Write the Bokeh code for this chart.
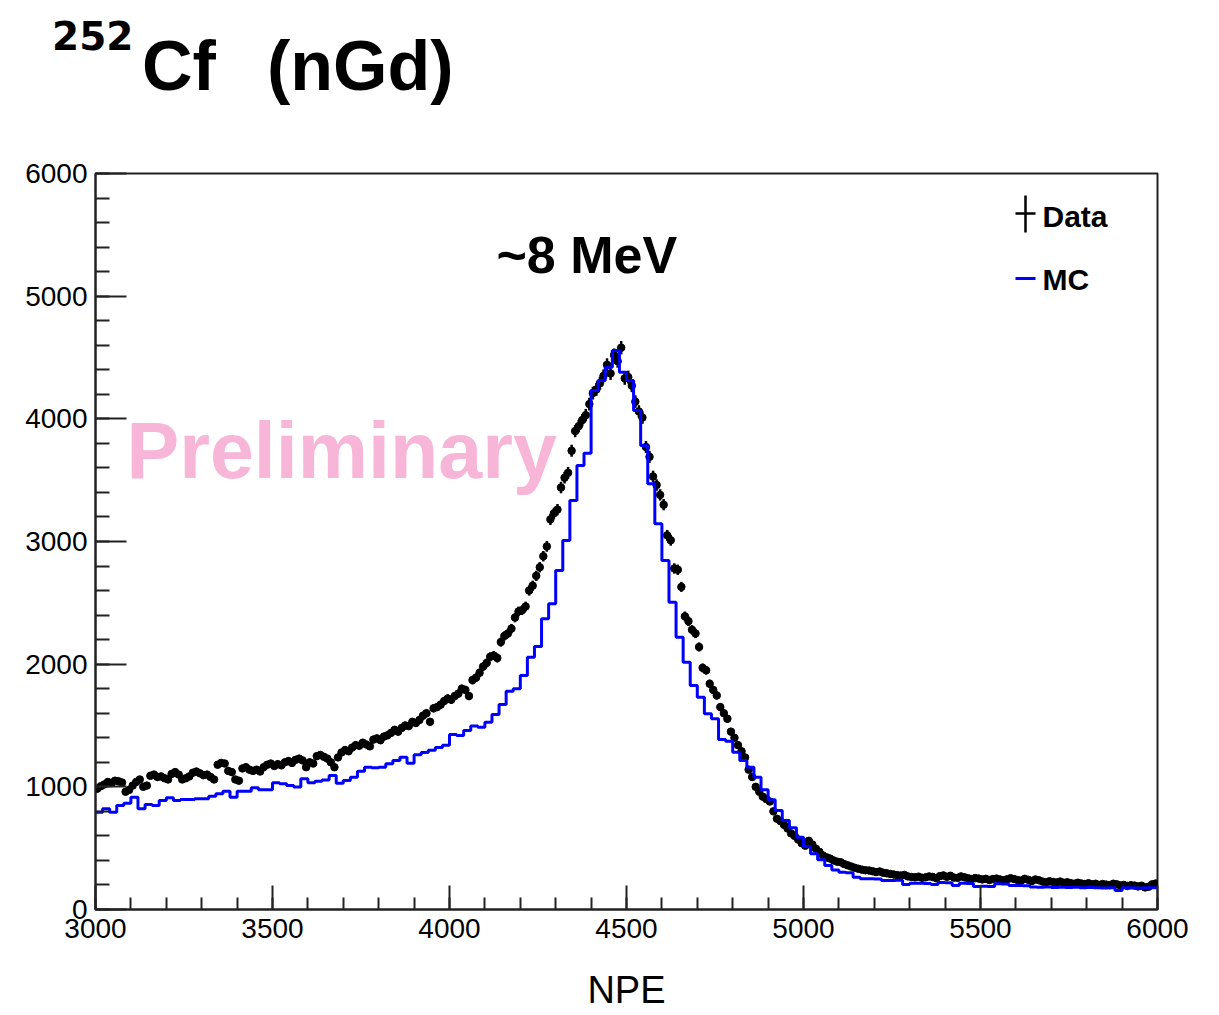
import numpy as np
from bokeh.plotting import figure
from bokeh.layouts import column
from bokeh.models import Range1d, SingleIntervalTicker, Label, Arrow, Div
from bokeh.embed import file_html
from bokeh.resources import INLINE

# ---------------- data ----------------
x_min, x_max = 3000, 6000
y_min, y_max = 0, 6000
data_bin = 10   # NPE per data bin
mc_bin = 20     # NPE per MC bin

# Data counts, 10-NPE bins from 3000 to 6000 (each line = 100 NPE)
data_counts = [
    985, 1005, 1020, 1040, 1030, 1050, 1045, 1035, 960, 975,
    1010, 1040, 1060, 1000, 1010, 1090, 1100, 1080, 1085, 1070,
    1060, 1105, 1120, 1100, 1060, 1070, 1085, 1115, 1125, 1110,
    1095, 1100, 1080, 1060, 1180, 1195, 1190, 1130, 1120, 1060,
    1050, 1150, 1160, 1140, 1130, 1140, 1125, 1160, 1180, 1190,
    1170, 1185, 1175, 1200, 1210, 1195, 1220, 1230, 1215, 1160,
    1200, 1190, 1250, 1260, 1245, 1230, 1200, 1160, 1240, 1280,
    1300, 1290, 1320, 1340, 1335, 1360, 1345, 1330, 1385, 1395,
    1380, 1410, 1420, 1440, 1465, 1450, 1480, 1500, 1495, 1530,
    1520, 1545, 1580, 1600, 1530, 1640, 1650, 1670, 1700, 1720,
    1710, 1740, 1760, 1800, 1790, 1740, 1870, 1890, 1930, 1980,
    2010, 2060, 2070, 2050, 2180, 2230, 2250, 2290, 2380, 2430,
    2440, 2470, 2600, 2640, 2720, 2790, 2880, 2960, 3180, 3230,
    3260, 3440, 3520, 3560, 3740, 3900, 3940, 3990, 4030, 4120,
    4210, 4240, 4290, 4350, 4440, 4370, 4520, 4470, 4580, 4330,
    4340, 4270, 4140, 4060, 4010, 3770, 3690, 3530, 3460, 3380,
    3300, 3050, 3010, 2780, 2770, 2630, 2390, 2350, 2280, 2250,
    2140, 1970, 1950, 1840, 1790, 1745, 1650, 1600, 1555, 1450,
    1400, 1340, 1290, 1240, 1140, 1080, 1000, 960, 920, 900,
    880, 800, 740, 720, 690, 660, 620, 600, 570, 540,
    520, 560, 530, 495, 470, 440, 425, 415, 400, 390,
    385, 370, 360, 350, 340, 332, 325, 320, 318, 312,
    305, 310, 300, 295, 290, 285, 280, 277, 282, 270,
    265, 262, 268, 258, 262, 270, 265, 255, 272, 278,
    266, 275, 260, 258, 270, 262, 255, 248, 256, 252,
    245, 250, 240, 248, 252, 245, 238, 246, 255, 248,
    240, 236, 250, 242, 232, 245, 238, 228, 222, 230,
    225, 220, 228, 218, 222, 215, 210, 218, 212, 208,
    214, 205, 210, 200, 208, 203, 198, 210, 205, 196,
    200, 192, 198, 195, 188, 194, 180, 186, 205, 212,
]

# MC counts, 20-NPE bins from 3000 to 6000 (each line = 200 NPE)
mc_counts = [
    793, 821, 793, 848, 867, 915, 821, 856, 848, 888,
    910, 888, 897, 897, 902, 902, 924, 943, 964, 915,
    964, 964, 992, 977, 977, 1033, 1025, 1011, 998, 1065,
    1033, 1046, 1056, 1092, 1030, 1052, 1079, 1127, 1160, 1155,
    1160, 1188, 1215, 1242, 1193, 1261, 1280, 1299, 1321, 1340,
    1427, 1418, 1459, 1495, 1486, 1527, 1590, 1671, 1780, 1799,
    1908, 2057, 2144, 2370, 2492, 2763, 3008, 3334, 3620, 3720,
    4230, 4312, 4421, 4557, 4380, 4312, 4068, 3783, 3470, 3144,
    2845, 2505, 2220, 2016, 1826, 1731, 1595, 1555, 1385, 1372,
    1282, 1215, 1160, 1079, 976, 894, 807, 726, 666, 589,
    514, 454, 405, 359, 323, 304, 300, 263, 250, 250,
    248, 236, 236, 238, 204, 214, 214, 212, 204, 220,
    218, 196, 214, 212, 188, 190, 188, 209, 207, 196,
    196, 194, 184, 182, 183, 180, 182, 179, 181, 178,
    180, 177, 176, 178, 155, 177, 177, 176, 178, 177,
]

title_sup = "252"
title_main = "Cf"
title_tail = "(nGd)"
x_label = "NPE"
energy_note = "~8 MeV"
watermark = "Preliminary"
legend_labels = ["Data", "MC"]

# --------------- derived ---------------
data_y = np.array(data_counts, dtype=float)
data_x = x_min + data_bin * (np.arange(len(data_y)) + 0.5)
data_err = 0.8 * np.sqrt(data_y)

mc_edges = x_min + mc_bin * np.arange(len(mc_counts) + 1)
mc_y = list(mc_counts) + [mc_counts[-1]]

TITLE_H = 110
FL, FB = 95, 909   # frame left / bottom in page pixels (for screen-unit annotations)

# --------------- title strip (HTML text) ----------------
span = ('<span style="position:absolute;left:{l}px;top:{t}px;font-family:\'{f}\';'
        'font-size:{s}px;font-weight:bold;line-height:1;white-space:nowrap;color:#000;">{txt}</span>')
title_html = (
    f'<div style="position:relative;width:1219px;height:{TITLE_H}px;margin:0;padding:0;">'
    + span.format(l=52, t=17, f="DejaVu Sans", s=39, txt=title_sup)
    + span.format(l=142, t=31, f="Liberation Sans", s=70, txt=title_main)
    + span.format(l=267, t=31, f="Liberation Sans", s=70, txt=title_tail)
    + '</div>'
)
title_div = Div(text=title_html, width=1219, height=TITLE_H, margin=0)

# --------------- main figure ----------------
p = figure(frame_width=1062, frame_height=736,
           x_range=Range1d(x_min, x_max), y_range=Range1d(y_min, y_max),
           output_backend="svg", toolbar_location=None,
           min_border_left=95, min_border_right=60,
           min_border_top=173 - TITLE_H, min_border_bottom=98,
           background_fill_color="white", border_fill_color="white")
p.xgrid.visible = False
p.ygrid.visible = False
p.outline_line_color = "#222222"
p.outline_line_width = 2

AXC = "#222222"
for ax in (p.xaxis[0], p.yaxis[0]):
    ax.axis_line_color = AXC
    ax.axis_line_width = 2
    ax.major_tick_line_color = AXC
    ax.major_tick_line_width = 2
    ax.minor_tick_line_color = AXC
    ax.minor_tick_line_width = 2
    ax.major_tick_out = 0
    ax.minor_tick_out = 0
    ax.major_label_text_font = "Liberation Sans"
    ax.major_label_text_font_size = "28px"
    ax.major_label_text_color = "black"

p.xaxis.ticker = SingleIntervalTicker(interval=500, num_minor_ticks=5)
p.xaxis.major_tick_in = 24
p.xaxis.minor_tick_in = 12
p.xaxis.major_label_standoff = 9
p.xaxis.axis_label = x_label
p.xaxis.axis_label_text_font = "Liberation Sans"
p.xaxis.axis_label_text_font_size = "38px"
p.xaxis.axis_label_text_font_style = "normal"
p.xaxis.axis_label_text_color = "black"
p.xaxis.axis_label_standoff = 28

p.yaxis.ticker = SingleIntervalTicker(interval=1000, num_minor_ticks=5)
p.yaxis.major_tick_in = 31
p.yaxis.minor_tick_in = 14
p.yaxis.major_label_standoff = 8

# data points with error bars
p.segment(x0=data_x, y0=data_y - data_err, x1=data_x, y1=data_y + data_err,
          line_color="black", line_width=2.5)
p.segment(x0=data_x - data_bin / 2, y0=data_y, x1=data_x + data_bin / 2, y1=data_y,
          line_color="black", line_width=2.5)
p.scatter(data_x, data_y, size=7.5, marker="circle", fill_color="black", line_color="black")

# MC histogram
p.step(mc_edges, mc_y, mode="after", line_color="#0000FF", line_width=3)

BASE_SHIFT = 0.36  # em offset between requested and drawn baseline


def lab(text, px, py, size, color="black", style="bold", font="Liberation Sans"):
    return Label(x=px - FL, y=FB - py + BASE_SHIFT * size, x_units="screen", y_units="screen",
                 text=text, text_font=font, text_font_size=f"{size}px",
                 text_font_style=style, text_color=color,
                 text_align="left", text_baseline="alphabetic")


# annotations
p.add_layout(lab(watermark, 126, 478, 79, color="#F7B6D7"))
p.add_layout(lab(energy_note, 496, 273, 52))

# legend
p.add_layout(lab(legend_labels[0], 1042, 227, 30))
p.add_layout(lab(legend_labels[1], 1042, 290, 30))
p.add_layout(Arrow(start=None, end=None, x_start=1025 - FL, y_start=FB - 195,
                   x_end=1025 - FL, y_end=FB - 232, start_units="screen", end_units="screen",
                   line_color="black", line_width=2.5))
p.add_layout(Arrow(start=None, end=None, x_start=1015 - FL, y_start=FB - 213,
                   x_end=1035 - FL, y_end=FB - 213, start_units="screen", end_units="screen",
                   line_color="black", line_width=2.5))
p.add_layout(Arrow(start=None, end=None, x_start=1015 - FL, y_start=FB - 278,
                   x_end=1035 - FL, y_end=FB - 278, start_units="screen", end_units="screen",
                   line_color="#0000FF", line_width=3))

layout = column(title_div, p, spacing=0)
open("out.html", "w").write(file_html(layout, INLINE))
